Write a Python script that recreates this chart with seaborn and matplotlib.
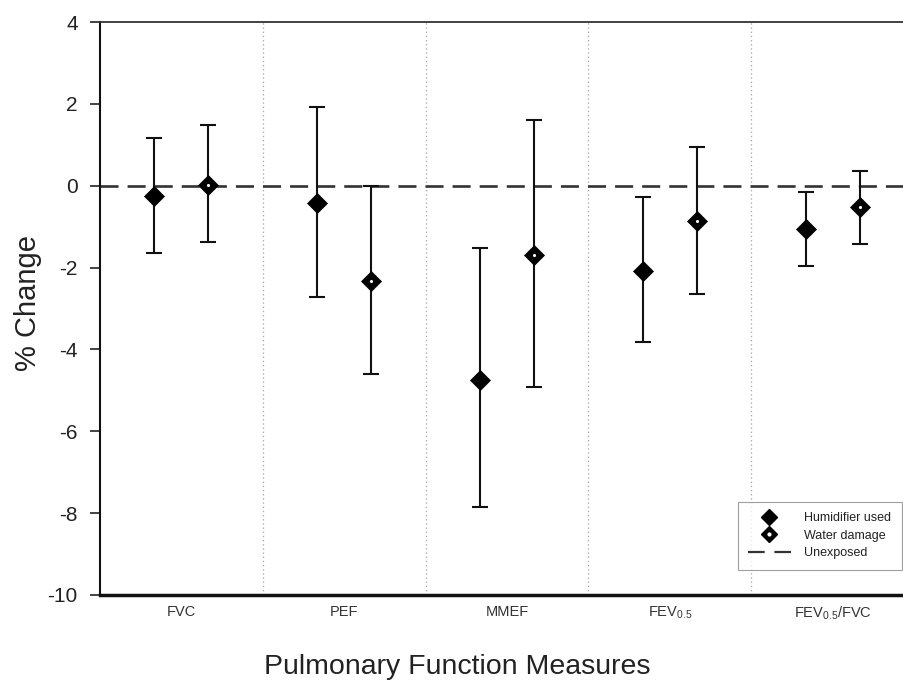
import numpy as np
import pandas as pd
import matplotlib
matplotlib.use("Agg")
import matplotlib.pyplot as plt
import seaborn as sns
from matplotlib.lines import Line2D
from matplotlib.legend_handler import HandlerTuple

categories = ["FVC", "PEF", "MMEF", "FEV$_{0.5}$", "FEV$_{0.5}$/FVC"]
humid_est = [-0.25, -0.42, -4.75, -2.08, -1.05]
humid_lo = [-1.65, -2.72, -7.85, -3.82, -1.95]
humid_hi = [1.17, 1.92, -1.53, -0.27, -0.15]
water_est = [0.02, -2.33, -1.70, -0.87, -0.52]
water_lo = [-1.38, -4.60, -4.93, -2.65, -1.42]
water_hi = [1.48, 0.00, 1.60, 0.95, 0.35]
yticks = [-10, -8, -6, -4, -2, 0, 2, 4]

sns.set_style("white")
plt.rcParams["font.family"] = ["Liberation Sans", "DejaVu Sans"]
plt.rcParams["lines.scale_dashes"] = False
plt.rcParams["mathtext.fontset"] = "custom"
plt.rcParams["mathtext.rm"] = "Liberation Sans"
plt.rcParams["mathtext.it"] = "Liberation Sans"

idx = np.arange(len(categories))
off = 0.166
df = pd.DataFrame({
    "x": np.concatenate([idx - off, idx + off]),
    "est": humid_est + water_est,
    "lo": humid_lo + water_lo,
    "hi": humid_hi + water_hi,
    "group": ["Humidifier used"] * 5 + ["Water damage"] * 5,
})

fig = plt.figure(figsize=(9.04, 6.85), dpi=100)
ax_w = 1 - 100 / 904 + 0.02
ax = fig.add_axes([100 / 904, 90 / 685, ax_w, (595 - 22) / 685])

# separators
for s in idx[:-1] + 0.5:
    ax.axvline(s, color="#aaaaaa", lw=0.9, ls=(0, (1, 2)), zorder=0)
# reference line
ax.axhline(0, color="#333333", lw=1.9, dashes=(13, 6.5), zorder=1)

# error bars
ax.errorbar(df["x"], df["est"], yerr=[df["est"] - df["lo"], df["hi"] - df["est"]],
            fmt="none", ecolor="#111111", elinewidth=1.5, capsize=6, capthick=1.5, zorder=2)

sns.scatterplot(data=df, x="x", y="est", marker="D", color="black", s=104,
                edgecolor="black", linewidth=0.5, legend=False, ax=ax, zorder=3)
sns.scatterplot(data=df[df["group"] == "Water damage"], x="x", y="est", marker="o",
                color="white", s=5, linewidth=0, legend=False, ax=ax, zorder=4)

ax.set_xlim(-0.5, 4.55)
ax.set_ylim(-10, 4)
ax.set_yticks(yticks)
ax.set_yticklabels([str(v) for v in yticks], fontsize=15, color="#222222")
ax.set_xticks(idx)
ax.set_xticklabels(categories, fontsize=10.5, color="#333333")
ax.tick_params(axis="y", direction="out", length=7, width=1.2, color="#222222", pad=9, left=True)
ax.tick_params(axis="x", length=0, pad=7)
ax.set_ylabel("% Change", fontsize=21, color="#222222")
ax.set_xlabel("Pulmonary Function Measures", fontsize=20.5, color="#222222")
ax.yaxis.set_label_coords(-0.071, 0.51)
ax.xaxis.set_label_coords((457 - 100) / (ax_w * 904), -(654 - 595) / 573)

for sp in ["left", "bottom"]:
    ax.spines[sp].set_color("#111111")
ax.spines["left"].set_linewidth(1.5)
ax.spines["bottom"].set_linewidth(2.5)
ax.spines["top"].set_linewidth(1.3)
ax.spines["top"].set_color("#333333")
ax.spines["right"].set_visible(False)

h1 = Line2D([], [], marker="D", color="black", ls="none", markersize=7.8)
h2a = Line2D([], [], marker="D", color="black", ls="none", markersize=7.8)
h2b = Line2D([], [], marker="o", color="white", ls="none", markersize=2)
h3 = Line2D([], [], color="#333333", lw=1.6, dashes=(12, 7))
leg = ax.legend([h1, (h2a, h2b), h3], ["Humidifier used", "Water damage", "Unexposed"],
                handler_map={tuple: HandlerTuple(ndivide=1, pad=0)},
                loc="lower right", bbox_to_anchor=((902 - 100) / (ax_w * 904), (595 - 570) / 573),
                borderaxespad=0, fontsize=9,
                frameon=True, fancybox=False, edgecolor="#888888",
                handlelength=3.4, labelspacing=0.45, borderpad=0.85, handletextpad=1.1)
leg.get_frame().set_linewidth(0.8)
for t in leg.get_texts():
    t.set_color("#222222")

fig.savefig("out.png", dpi=100)
